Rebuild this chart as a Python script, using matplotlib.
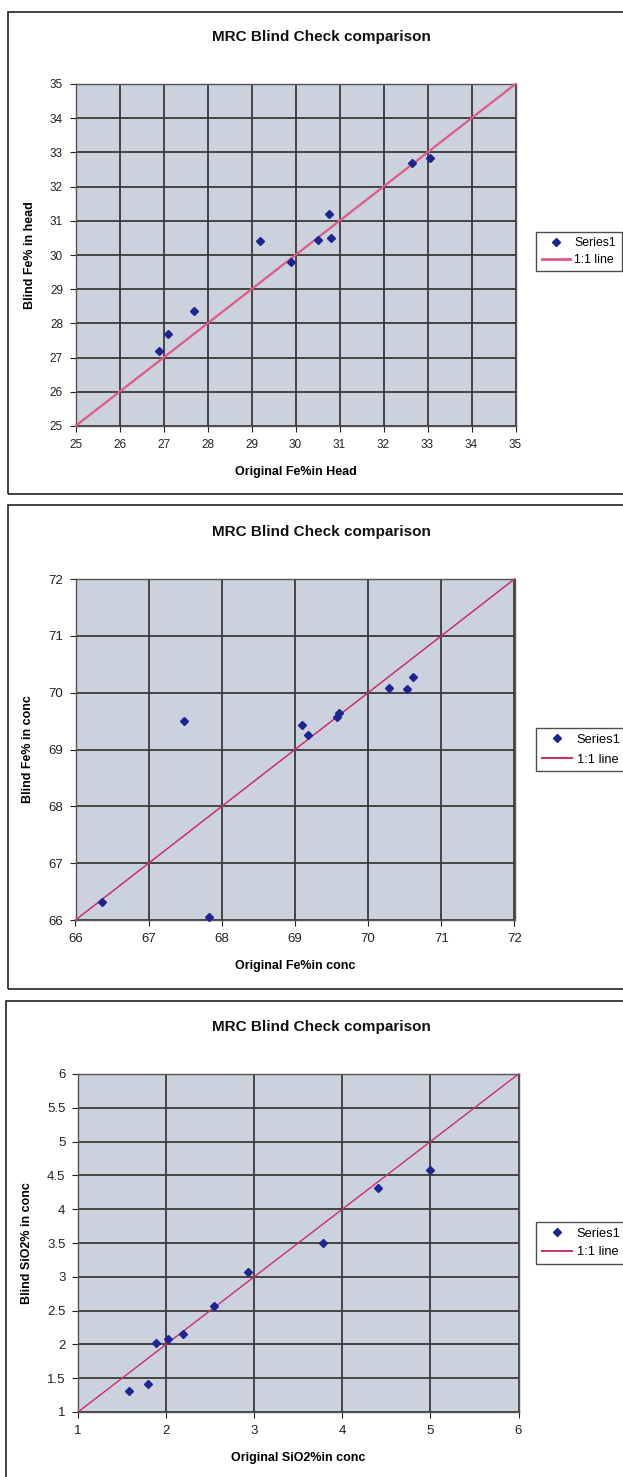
import matplotlib
matplotlib.use("Agg")
import matplotlib.pyplot as plt
from matplotlib.patches import Rectangle
from matplotlib.lines import Line2D

plt.rcParams["font.family"] = ["Liberation Sans", "DejaVu Sans"]

W, H = 623, 1477

# panel 1: Fe in head
head_orig = [26.9, 27.1, 27.7, 29.2, 29.9, 30.5, 30.75, 30.8, 32.65, 33.05]
head_blind = [27.2, 27.7, 28.35, 30.4, 29.8, 30.45, 31.2, 30.5, 32.7, 32.85]

# panel 2: Fe in conc
fe_orig = [66.36, 67.48, 67.83, 69.10, 69.18, 69.58, 69.60, 70.29, 70.53, 70.61]
fe_blind = [66.31, 69.51, 66.06, 69.43, 69.25, 69.58, 69.65, 70.09, 70.06, 70.28]

# panel 3: SiO2 in conc
si_orig = [1.58, 1.80, 1.88, 2.02, 2.19, 2.54, 2.93, 3.78, 4.41, 5.00]
si_blind = [1.31, 1.41, 2.02, 2.08, 2.16, 2.57, 3.07, 3.50, 4.32, 4.58]

panels = [
    dict(x=head_orig, y=head_blind, lim=(25, 35), step=1, ticks=None,
         xlabel="Original Fe%in Head", ylabel="Blind Fe% in head",
         box=(8, 12, 700, 494), plot=(75.5, 84, 515.5, 426), title_y=37,
         legend_y=232, line_c="#e05a88", line_w=1.6, fs=8.5, lfs=8.8,
         lsp=0.35),
    dict(x=fe_orig, y=fe_blind, lim=(66, 72), step=1, ticks=None,
         xlabel="Original Fe%in conc", ylabel="Blind Fe% in conc",
         box=(8, 505, 700, 989), plot=(75.5, 579, 514.5, 920), title_y=532,
         legend_y=728, line_c="#c8306a", line_w=1.1, fs=9.5, lfs=9.3,
         lsp=0.6),
    dict(x=si_orig, y=si_blind, lim=(1, 6), step=1, ticks=0.5,
         xlabel="Original SiO2%in conc", ylabel="Blind SiO2% in conc",
         box=(6, 1001, 700, 1500), plot=(78, 1074, 518.5, 1412), title_y=1027,
         legend_y=1222, line_c="#c8306a", line_w=1.0, fs=9.5, lfs=9.3,
         lsp=0.5),
]


def rect(l, t, r, b):
    return [l / W, 1 - b / H, (r - l) / W, (b - t) / H]


fig = plt.figure(figsize=(W / 100, H / 100), dpi=100)
fig.patch.set_facecolor("white")

for p in panels:
    l, t, r, b = p["box"]
    fig.patches.append(Rectangle((l / W, 1 - b / H), (r - l) / W, (b - t) / H,
                                 transform=fig.transFigure, fill=False,
                                 edgecolor="#222222", lw=1.2))

    ax = fig.add_axes(rect(*p["plot"]))
    ax.set_facecolor("#cbd1dd")
    lo, hi = p["lim"]
    ax.set_xlim(lo, hi)
    ax.set_ylim(lo, hi)
    xt = [lo + i * p["step"] for i in range(int((hi - lo) / p["step"]) + 1)]
    ax.set_xticks(xt)
    ax.set_xticklabels([f"{v:g}" for v in xt])
    if p["ticks"]:
        n = int((hi - lo) / p["ticks"]) + 1
        yt = [lo + i * p["ticks"] for i in range(n)]
    else:
        yt = xt
    ax.set_yticks(yt)
    ax.set_yticklabels([f"{v:g}" for v in yt])
    ax.grid(True, color="#3a3a3a", lw=1.3)
    ax.set_axisbelow(True)
    for s in ax.spines.values():
        s.set_color("#555555")
        s.set_linewidth(1.0)
    ax.tick_params(direction="out", length=4, width=0.8, colors="#222222",
                   labelsize=p["fs"], pad=5)

    ax.plot([lo, hi], [lo, hi], color=p["line_c"], lw=p["line_w"],
            clip_on=False, zorder=3)
    ax.plot(p["x"], p["y"], ls="none", marker="D", ms=4.4, color="#1c2590",
            clip_on=False, zorder=4)

    ax.set_xlabel(p["xlabel"], fontsize=9, fontweight="bold", labelpad=11)
    ax.set_ylabel(p["ylabel"], fontsize=9, fontweight="bold", labelpad=10)

    fig.text(321 / W, 1 - p["title_y"] / H,
             "MRC Blind Check comparison", ha="center", va="center",
             fontsize=11, fontweight="bold", color="#111111")

    handles = [
        Line2D([], [], ls="none", marker="D", ms=4, color="#1c2590"),
        Line2D([], [], color=p["line_c"], lw=p["line_w"] + 0.4),
    ]
    leg = fig.legend(handles, ["Series1", "1:1 line"],
                     loc="upper left",
                     bbox_to_anchor=(536 / W, 1 - p["legend_y"] / H),
                     fontsize=p["lfs"], frameon=True, fancybox=False,
                     edgecolor="#222222", handlelength=2.3,
                     handletextpad=0.4, borderpad=0.45,
                     labelspacing=p["lsp"], borderaxespad=0)
    leg.get_frame().set_linewidth(1.0)

fig.savefig("out.png", dpi=100, facecolor="white")
